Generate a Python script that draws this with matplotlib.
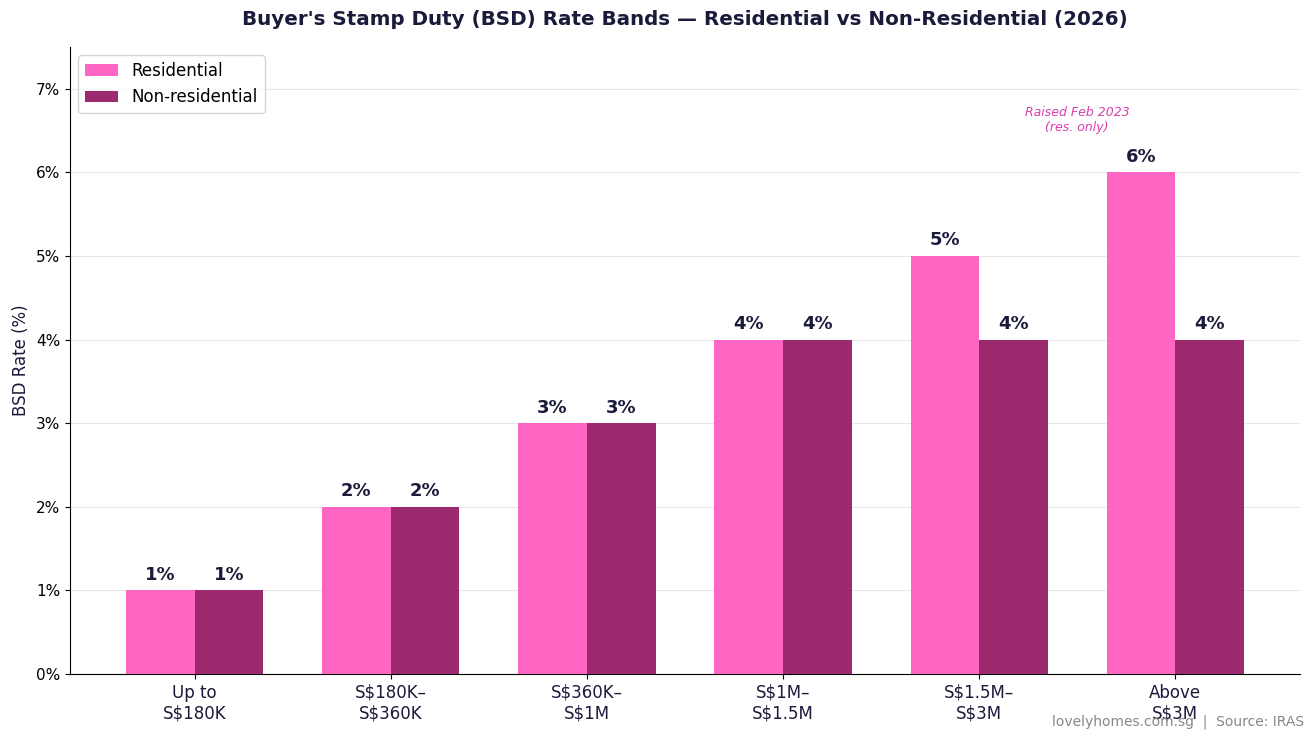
import matplotlib
matplotlib.use("Agg")
import matplotlib.pyplot as plt
import numpy as np
from matplotlib.ticker import FuncFormatter

# === DATOS ===
bands = ["Up to\nS$180K", "S$180K–\nS$360K", "S$360K–\nS$1M",
         "S$1M–\nS$1.5M", "S$1.5M–\nS$3M", "Above\nS$3M"]
residential = [1, 2, 3, 4, 5, 6]
non_residential = [1, 2, 3, 4, 4, 4]

RES_COLOR = "#FF66C4"
NONRES_COLOR = "#9B2A6F"
DARK = "#1a1a3a"

# === FIGURA ===
fig, ax = plt.subplots(figsize=(13.13, 7.4), dpi=100)
fig.subplots_adjust(left=0.0533, right=0.990, top=0.9365, bottom=0.0892)

x = np.arange(len(bands))
w = 0.35
b1 = ax.bar(x - w / 2, residential, w, color=RES_COLOR, label="Residential", zorder=3)
b2 = ax.bar(x + w / 2, non_residential, w, color=NONRES_COLOR, label="Non-residential", zorder=3)

for bars in (b1, b2):
    for b in bars:
        ax.text(b.get_x() + b.get_width() / 2, b.get_height() + 0.08,
                f"{b.get_height():.0f}%", ha="center", va="bottom",
                fontsize=13, fontweight="bold", color=DARK)

ax.annotate("Raised Feb 2023\n(res. only)", xy=(4.5, 6.63), ha="center", va="center",
            fontsize=9, style="italic", color="#D63FAE")

ax.set_ylim(0, 7.5)
ax.set_yticks(np.arange(0, 8, 1))
ax.yaxis.set_major_formatter(FuncFormatter(lambda v, _: f"{v:.0f}%"))
ax.set_xticks(x)
ax.set_xticklabels(bands, fontsize=12, color=DARK)
ax.tick_params(axis="y", labelsize=11)
ax.set_ylabel("BSD Rate (%)", fontsize=12, color=DARK)
ax.grid(axis="y", color="#e6e6e6", linewidth=0.8, zorder=0)
ax.spines["top"].set_visible(False)
ax.spines["right"].set_visible(False)

ax.set_title("Buyer's Stamp Duty (BSD) Rate Bands — Residential vs Non-Residential (2026)",
             fontsize=14.3, fontweight="bold", color=DARK, pad=16)
ax.legend(loc="upper left", fontsize=12)

fig.text(0.993, 0.015, "lovelyhomes.com.sg  |  Source: IRAS", ha="right", va="bottom",
         fontsize=10, color="#888888")

plt.savefig("out.png", dpi=100)
